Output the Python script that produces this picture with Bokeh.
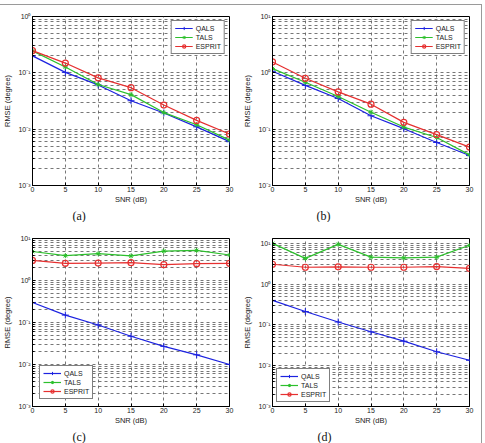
import math

from bokeh.plotting import figure
from bokeh.layouts import gridplot, column
from bokeh.models import (FixedTicker, CustomJSTickFormatter, Range1d, Title,
                          Legend, LegendItem)
from bokeh.embed import file_html
from bokeh.resources import INLINE

# SNR sweep (dB)
snr = [0, 5, 10, 15, 20, 25, 30]

# RMSE (degree) for each scenario
a_qals = [0.20, 0.102, 0.061, 0.032, 0.0194, 0.011, 0.006]
a_tals = [0.245, 0.127, 0.062, 0.041, 0.0197, 0.012, 0.0064]
a_esprit = [0.248, 0.149, 0.0815, 0.0545, 0.0268, 0.0143, 0.0082]

b_qals = [1.07, 0.60, 0.35, 0.173, 0.102, 0.058, 0.034]
b_tals = [1.19, 0.68, 0.38, 0.20, 0.109, 0.071, 0.035]
b_esprit = [1.56, 0.80, 0.46, 0.278, 0.132, 0.080, 0.048]

c_qals = [0.30, 0.15, 0.087, 0.047, 0.027, 0.017, 0.010]
c_tals = [4.9, 3.9, 4.35, 3.84, 5.0, 5.2, 4.05]
c_esprit = [3.0, 2.56, 2.6, 2.65, 2.38, 2.51, 2.56]

d_qals = [0.40, 0.214, 0.118, 0.068, 0.040, 0.022, 0.0136]
d_tals = [10.0, 4.3, 9.5, 4.6, 4.4, 4.6, 9.0]
d_esprit = [3.08, 2.6, 2.66, 2.6, 2.6, 2.7, 2.43]

method_names = ["QALS", "TALS", "ESPRIT"]
captions = ["(a)", "(b)", "(c)", "(d)"]
x_label = "SNR (dB)"
y_label = "RMSE (degree)"

BLUE = "#1c22e0"
GREEN = "#2cc02c"
RED = "#e63030"
GRID = "#555555"
SANS = "Liberation Sans"

sup_fmt = CustomJSTickFormatter(code="""
    const sup = {"-": "\u207b", "0": "\u2070", "1": "\u00b9", "2": "\u00b2", "3": "\u00b3",
                 "4": "\u2074", "5": "\u2075", "6": "\u2076", "7": "\u2077", "8": "\u2078", "9": "\u2079"};
    const e = Math.round(Math.log10(tick));
    return "10" + String(e).split("").map(c => sup[c]).join("");
""")


def panel(series, ylo, yhi, width, height, borders, legend_loc, legend_margin,
          caption, cap_offset):
    bl, br, bt, bb = borders
    p = figure(width=width, height=height, y_axis_type="log",
               x_range=Range1d(0, 30), y_range=Range1d(ylo, yhi),
               output_backend="svg", toolbar_location=None,
               min_border_left=bl, min_border_right=br,
               min_border_top=bt, min_border_bottom=bb,
               background_fill_color="white", border_fill_color="white")
    p.outline_line_color = "black"
    p.outline_line_width = 1

    e_lo = int(round(math.log10(ylo)))
    e_hi = int(math.floor(math.log10(yhi) + 1e-9))
    majors = [10.0 ** e for e in range(e_lo, e_hi + 1)]
    minors = [k * 10.0 ** e for e in range(e_lo, e_hi + 1) for k in range(2, 10)
              if k * 10.0 ** e < yhi]
    p.yaxis.ticker = FixedTicker(ticks=majors, minor_ticks=minors)
    p.yaxis.formatter = sup_fmt
    p.xaxis.ticker = FixedTicker(ticks=snr, minor_ticks=[])

    for ax in (p.xaxis[0], p.yaxis[0]):
        ax.axis_line_color = "black"
        ax.major_tick_in = 3
        ax.major_tick_out = 0
        ax.minor_tick_in = 2
        ax.minor_tick_out = 0
        ax.major_label_text_font = SANS
        ax.major_label_text_font_size = "7px"
        ax.major_label_text_color = "#222222"
        ax.axis_label_text_font = SANS
        ax.axis_label_text_font_size = "7.5px"
        ax.axis_label_text_font_style = "normal"
        ax.axis_label_text_color = "#222222"
    p.xaxis.major_label_standoff = 1
    p.xaxis.axis_label_standoff = 0
    p.yaxis.major_label_standoff = 2
    p.yaxis.axis_label_standoff = 3
    p.xaxis.axis_label = x_label
    p.yaxis.axis_label = y_label

    p.xgrid.grid_line_color = GRID
    p.xgrid.grid_line_dash = "3 3"
    p.xgrid.grid_line_alpha = 0.8
    p.ygrid.grid_line_color = GRID
    p.ygrid.grid_line_dash = "3 3"
    p.ygrid.grid_line_alpha = 0.8
    p.ygrid.minor_grid_line_color = GRID
    p.ygrid.minor_grid_line_dash = "3 3"
    p.ygrid.minor_grid_line_alpha = 0.8

    q, t, es = series
    items = []
    r1 = p.line(snr, q, line_color=BLUE, line_width=1.2)
    r2 = p.scatter(snr, q, marker="cross", size=7, line_color=BLUE, line_width=1)
    items.append(LegendItem(label=method_names[0], renderers=[r1, r2]))
    r3 = p.line(snr, t, line_color=GREEN, line_width=1.2)
    r4 = p.scatter(snr, t, marker="asterisk", size=5, line_color=GREEN, line_width=1)
    items.append(LegendItem(label=method_names[1], renderers=[r3, r4]))
    r5 = p.line(snr, es, line_color=RED, line_width=1.2)
    r6 = p.scatter(snr, es, marker="circle", size=6, line_color=RED, fill_color=None, line_width=1.2)
    items.append(LegendItem(label=method_names[2], renderers=[r5, r6]))

    leg = Legend(items=items, location=legend_loc, margin=legend_margin,
                 border_line_color="black", border_line_width=1,
                 background_fill_color="white", background_fill_alpha=1,
                 label_text_font=SANS, label_text_font_size="7px",
                 label_text_color="#222222",
                 glyph_width=18, glyph_height=8, label_height=8,
                 label_standoff=3, spacing=1, padding=3)
    p.add_layout(leg, "center")

    # panel caption under the x-axis label
    p.add_layout(Title(text=caption, align="left", offset=cap_offset, standoff=0,
                       text_font="Liberation Serif", text_font_size="12px",
                       text_line_height=0.7,
                       text_font_style="normal", text_color="#111111"), "below")
    return p


pa = panel((a_qals, a_tals, a_esprit), 1e-3, 1.0, 240, 217, (30, 11, 11, 34),
           "top_right", 4, captions[0], 40)
pb = panel((b_qals, b_tals, b_esprit), 1e-2, 10.0, 241, 217, (32, 12, 11, 34),
           "top_right", 4, captions[1], 44)
pc = panel((c_qals, c_tals, c_esprit), 1e-3, 10.0, 240, 221, (30, 11, 15, 36),
           "bottom_left", 7, captions[2], 40)
pd = panel((d_qals, d_tals, d_esprit), 1e-3, 13.2, 241, 221, (32, 12, 16, 36),
           "bottom_left", 4, captions[3], 45)

grid = gridplot([[pa, pb], [pc, pd]], toolbar_location=None)
page = column(grid, styles={"border-top": "1px solid #9a9a9a",
                            "border-right": "1px solid #9a9a9a",
                            "margin-top": "4px"})

open("out.html", "w").write(file_html(page, INLINE))
